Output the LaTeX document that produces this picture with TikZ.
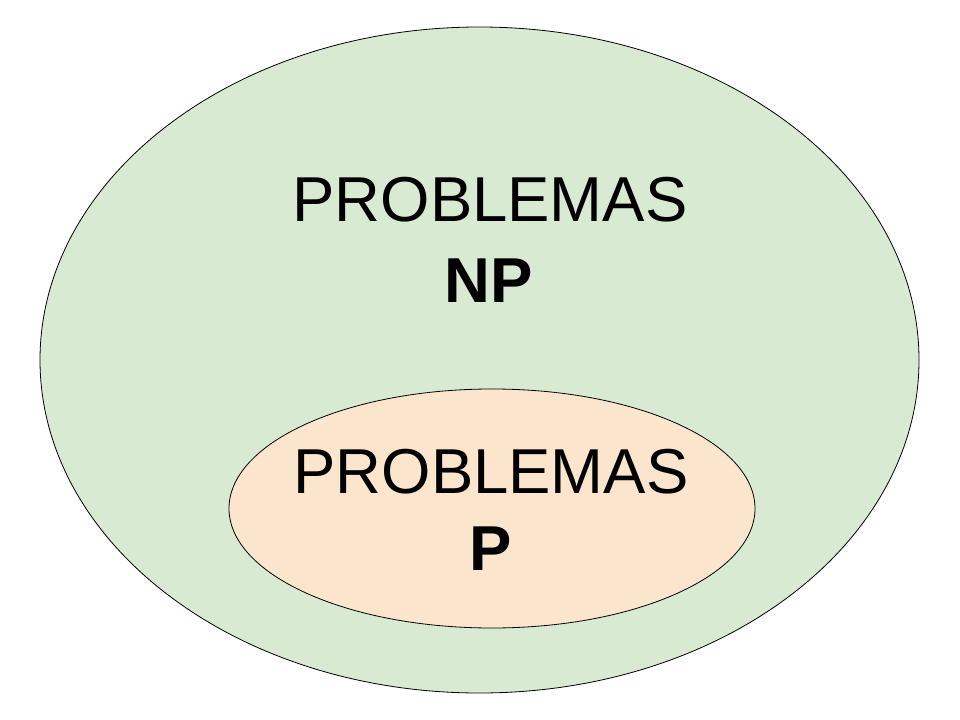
\documentclass[tikz,border=0pt]{standalone}
\usepackage{fontspec}
\setmainfont{Liberation Sans}
\usetikzlibrary{shapes.geometric}

\definecolor{npgreen}{HTML}{D9EAD3}
\definecolor{ppeach}{HTML}{FCE5CD}

\tikzset{
  setbox/.style={ellipse, draw=black, line width=0.6pt, inner sep=0pt},
  setlabel/.style={anchor=base, inner sep=0pt, font=\fontsize{47.6}{60}\selectfont}
}

\begin{document}
\begin{tikzpicture}[x=0.75pt,y=-0.75pt]

	\useasboundingbox (0,0) rectangle (960,720);

	% Sets
	\node[setbox, fill=npgreen, minimum width=659.25pt, minimum height=499.5pt] (np) at (479.5,360) {};
	\node[setbox, fill=ppeach, minimum width=394.5pt, minimum height=179.25pt] (p) at (492,508.5) {};

	% Labels
	\node[setlabel] (nptitle) at (490,222) {PROBLEMAS};
	\node[setlabel] (npname) at (489,302) {\textbf{NP}};
	\node[setlabel] (ptitle) at (491,493) {PROBLEMAS};
	\node[setlabel] (pname) at (491,570) {\textbf{P}};

\end{tikzpicture}
\end{document}
